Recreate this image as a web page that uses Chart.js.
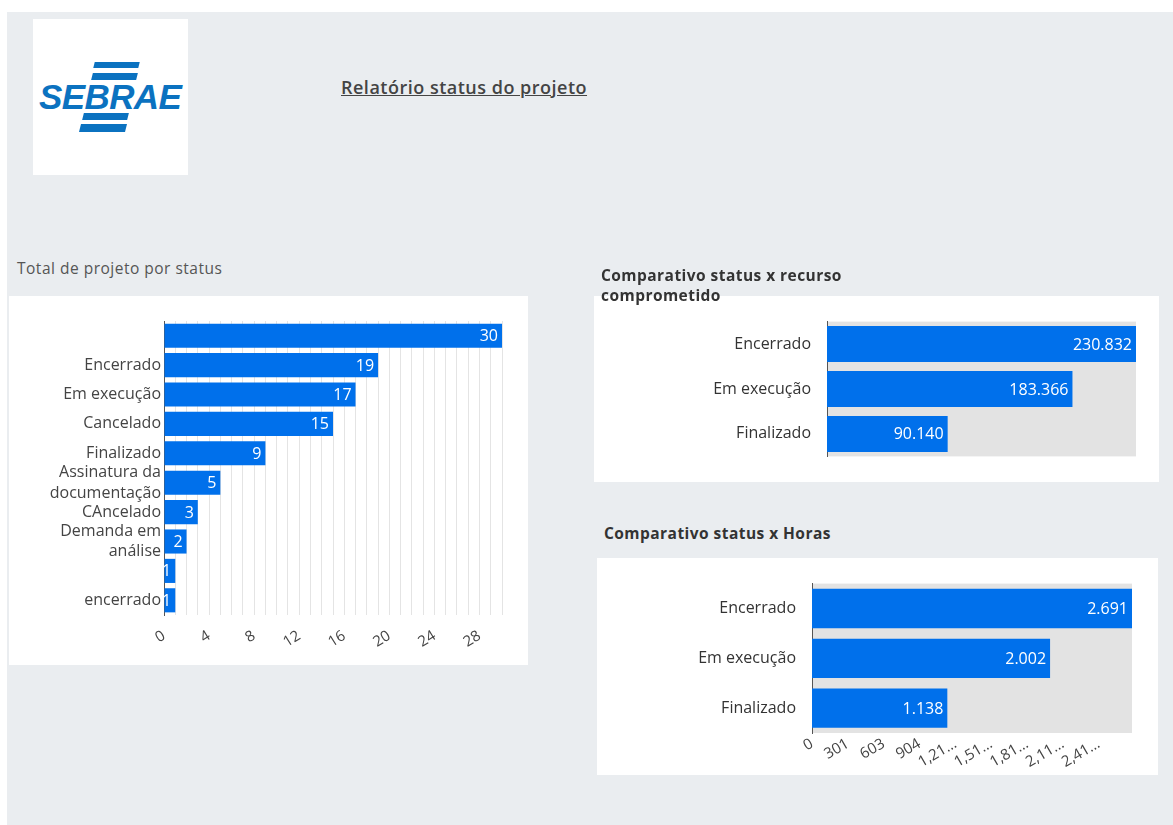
<!DOCTYPE html>
<html>
<head>
<meta charset="utf-8">
<script src="https://cdn.jsdelivr.net/npm/chart.js@4/dist/chart.umd.min.js"></script>
<style>
  body { margin: 0; background: #fff; font-family: "Open Sans", sans-serif; }
  .page { position: absolute; left: 7px; top: 12px; width: 1166px; height: 813px; background: #eaedf0; }
  .abs { position: absolute; }
  .logo { left: 33px; top: 19px; width: 155px; height: 156px; background: #fff; overflow: hidden; }
  .logo .txt { position: absolute; left: 6px; top: 60px; font-family: "Liberation Sans", Arial, sans-serif; font-weight: bold; font-style: italic; font-size: 35px; color: #0b72c0; letter-spacing: -0.6px; line-height: 35px; }
  .logo .st { position: absolute; height: 7px; background: #0b72c0; transform: skewX(-14deg); }
  .panel { background: #fff; }
  .title { left: 341px; top: 75px; font-size: 18px; font-weight: 600; color: #444; text-decoration: underline; letter-spacing: 0.5px; }
  .h { font-size: 15.5px; font-weight: 700; color: #333; line-height: 20px; z-index: 2; letter-spacing: 0.45px; }
</style>
</head>
<body>
<div class="page"></div>

<div class="abs logo">
  <div class="st" style="left:61px;top:43px;width:45px;height:6px"></div>
  <div class="st" style="left:59px;top:54px;width:45px"></div>
  <div class="txt">SEBRAE</div>
  <div class="st" style="left:50px;top:94px;width:45px"></div>
  <div class="st" style="left:47px;top:105px;width:46px;height:8px"></div>
</div>
<div class="abs title">Relatório status do projeto</div>

<div class="abs" style="left:17px;top:257px;font-size:15.5px;color:#555;letter-spacing:0.5px">Total de projeto por status</div>
<div class="abs panel" style="left:9px;top:296px;width:519px;height:369px">
  <canvas id="statusChart" width="519" height="369"></canvas>
</div>

<div class="abs h" style="left:601px;top:265px">Comparativo status x recurso<br>comprometido</div>
<div class="abs panel" style="left:594px;top:296px;width:565px;height:186px">
  <canvas id="recursoChart" width="565" height="186"></canvas>
</div>

<div class="abs h" style="left:604px;top:523px">Comparativo status x Horas</div>
<div class="abs panel" style="left:597px;top:558px;width:561px;height:217px">
  <canvas id="horasChart" width="561" height="217"></canvas>
</div>

<script>
// Total de projeto por status
const statusLabels = ['', 'Encerrado', 'Em execução', 'Cancelado', 'Finalizado', ['Assinatura da', 'documentação'], 'CAncelado', ['Demanda em', 'análise'], '', 'encerrado'];
const statusCounts = [30, 19, 17, 15, 9, 5, 3, 2, 1, 1];

// Comparativo status x recurso comprometido
const recursoLabels = ['Encerrado', 'Em execução', 'Finalizado'];
const recursoValues = [230832, 183366, 90140];

// Comparativo status x Horas
const horasLabels = ['Encerrado', 'Em execução', 'Finalizado'];
const horasValues = [2691, 2002, 1138];
const horasTickValues = [0, 301.5, 603, 904.5, 1206, 1507.5, 1809, 2110.5, 2412];
const horasTickLabels = ['0', '301', '603', '904', '1,21…', '1,51…', '1,81…', '2,11…', '2,41…'];

const BLUE = '#0070eb';
const FONT = '"Open Sans", sans-serif';

// white value text at the end of each bar
const valueLabels = {
    id: 'valueLabels',
    afterDatasetsDraw(chart, args, opts) {
        const ctx = chart.ctx;
        const ds = chart.data.datasets[0];
        ctx.save();
        ctx.font = '16px ' + FONT;
        ctx.fillStyle = '#fff';
        ctx.textAlign = 'right';
        ctx.textBaseline = 'middle';
        chart.getDatasetMeta(0).data.forEach((bar, i) => {
            const v = ds.data[i];
            const txt = opts.locale ? v.toLocaleString('pt-BR') : String(v);
            ctx.fillText(txt, bar.x - 4, bar.y + 1);
        });
        ctx.restore();
    }
};

// gray plot background
const plotBg = {
    id: 'plotBg',
    beforeDraw(chart, args, opts) {
        if (!opts.color) return;
        const a = chart.chartArea;
        chart.ctx.save();
        chart.ctx.fillStyle = opts.color;
        chart.ctx.fillRect(a.left, a.top, a.right - a.left, a.bottom - a.top);
        chart.ctx.restore();
    }
};

Chart.register(valueLabels, plotBg);
Chart.defaults.font.family = FONT;
Chart.defaults.animation = false;

new Chart(document.getElementById('statusChart'), {
    type: 'bar',
    data: {
        labels: statusLabels,
        datasets: [{ data: statusCounts, backgroundColor: BLUE, categoryPercentage: 1, barPercentage: 0.82 }]
    },
    options: {
        indexAxis: 'y',
        responsive: false,
        layout: { padding: { top: 25, right: 26, left: 0, bottom: 0 } },
        plugins: { legend: { display: false }, tooltip: { enabled: false }, valueLabels: {} },
        scales: {
            x: {
                min: 0, max: 30,
                afterFit(s) { s.height = 50; },
                grid: { color: '#e4e4e4', drawTicks: false },
                border: { display: false },
                ticks: {
                    stepSize: 1, autoSkip: false, minRotation: 32, maxRotation: 32, padding: 12,
                    color: '#444', font: { size: 15 },
                    callback: v => (v % 4 === 0 && v < 30) ? v : ''
                }
            },
            y: {
                afterFit(s) { s.width = 155; },
                grid: { display: false, drawTicks: false },
                border: { display: true, color: '#555' },
                ticks: { autoSkip: false, color: '#444', padding: 3, font: { size: 16, lineHeight: 1.3 } }
            }
        }
    }
});

new Chart(document.getElementById('recursoChart'), {
    type: 'bar',
    data: {
        labels: recursoLabels,
        datasets: [{ data: recursoValues, backgroundColor: BLUE, categoryPercentage: 1, barPercentage: 0.8 }]
    },
    options: {
        indexAxis: 'y',
        responsive: false,
        layout: { padding: { top: 24, right: 23, left: 0, bottom: 20 } },
        plugins: { legend: { display: false }, tooltip: { enabled: false }, valueLabels: { locale: true }, plotBg: { color: '#e3e3e3' } },
        scales: {
            x: { display: false, min: 0, max: Math.max(...recursoValues) },
            y: {
                afterFit(s) { s.width = 233; },
                grid: { display: false, drawTicks: false },
                border: { display: true, color: '#555' },
                ticks: { autoSkip: false, color: '#333', padding: 16, font: { size: 16 } }
            }
        }
    }
});

new Chart(document.getElementById('horasChart'), {
    type: 'bar',
    data: {
        labels: horasLabels,
        datasets: [{ data: horasValues, backgroundColor: BLUE, categoryPercentage: 1, barPercentage: 0.79 }]
    },
    options: {
        indexAxis: 'y',
        responsive: false,
        layout: { padding: { top: 25, right: 26, left: 0, bottom: 0 } },
        plugins: { legend: { display: false }, tooltip: { enabled: false }, valueLabels: { locale: true }, plotBg: { color: '#e3e3e3' } },
        scales: {
            x: {
                min: 0, max: Math.max(...horasValues),
                afterFit(s) { s.height = 42; },
                afterBuildTicks(s) { s.ticks = horasTickValues.map(v => ({ value: v })); },
                grid: { display: false, drawTicks: false },
                border: { display: false },
                ticks: {
                    autoSkip: false, minRotation: 30, maxRotation: 30, padding: 2,
                    color: '#444', font: { size: 15 },
                    callback: (v, i) => horasTickLabels[i]
                }
            },
            y: {
                afterFit(s) { s.width = 215; },
                grid: { display: false, drawTicks: false },
                border: { display: true, color: '#555' },
                ticks: { autoSkip: false, color: '#333', padding: 16, font: { size: 16 } }
            }
        }
    }
});
</script>
</body>
</html>
